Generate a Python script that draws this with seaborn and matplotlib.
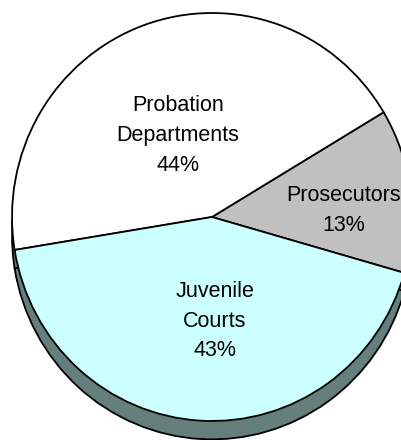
import matplotlib
matplotlib.use("Agg")
import matplotlib.pyplot as plt
import seaborn as sns

# slice data (counter-clockwise from the Prosecutors wedge)
categories = ["Prosecutors", "Probation\nDepartments", "Juvenile\nCourts"]
shares = [13, 44, 43]
slice_colors = ["#C0C0C0", "#FFFFFF", "#CCFFFF"]
side_color = "#647F7C"

# label anchor points (data units, pie radius = 1)
label_pos = [(0.66, 0.03), (-0.17, 0.40), (0.015, -0.51)]

sns.set_style("white")
plt.rcParams['font.family'] = ['Liberation Sans', 'DejaVu Sans']

fig = plt.figure(figsize=(4.02, 4.40), dpi=100)
ax = fig.add_axes([0, 0, 1, 1])
ax.set_axis_off()

start = -15.9
depth = 0.09
wedge_kw = dict(edgecolor="black", linewidth=1.3)

# extruded side (drawn first, shifted down)
ax.pie(shares, colors=[side_color] * len(shares), startangle=start,
       counterclock=True, center=(0, -depth), wedgeprops=wedge_kw,
       frame=True)
# top face
ax.pie(shares, colors=slice_colors, startangle=start, counterclock=True,
       center=(0, 0), wedgeprops=wedge_kw, frame=True)

for cat, val, (x, y) in zip(categories, shares, label_pos):
    ax.text(x, y, f"{cat}\n{val}%", ha="center", va="center",
            fontsize=15.5, linespacing=1.55, color="black")

# 1 unit = 200 px horizontally, ~204 px vertically
ax.set_aspect("auto")
ax.set_xlim(-212 / 200, (402 - 212) / 200)
ax.set_ylim(-(440 - 217) / 204, 217 / 204)
ax.set_axis_off()

fig.savefig("out.png", dpi=100, facecolor="white")
